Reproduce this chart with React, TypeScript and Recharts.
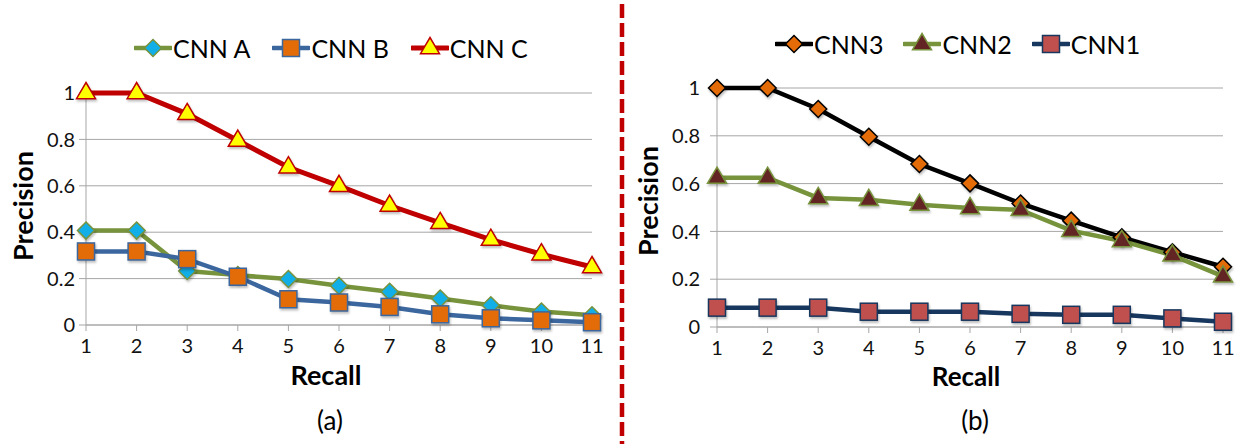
import { LineChart, Line, XAxis, YAxis, CartesianGrid } from "recharts";

// recall steps shared by both panels
const recall = [1, 2, 3, 4, 5, 6, 7, 8, 9, 10, 11];
const precisionTicks = [0, 0.2, 0.4, 0.6, 0.8, 1];

// panel (a)
const cnnA = [0.407, 0.407, 0.233, 0.215, 0.198, 0.169, 0.143, 0.114, 0.085, 0.058, 0.042];
const cnnB = [0.317, 0.317, 0.284, 0.208, 0.111, 0.097, 0.078, 0.046, 0.029, 0.02, 0.012];
const cnnC = [1, 1, 0.91, 0.795, 0.68, 0.6, 0.515, 0.44, 0.368, 0.305, 0.25];

// panel (b)
const cnn3 = [1, 1, 0.912, 0.796, 0.682, 0.601, 0.517, 0.445, 0.375, 0.313, 0.252];
const cnn2 = [0.625, 0.625, 0.54, 0.532, 0.512, 0.498, 0.49, 0.403, 0.36, 0.3, 0.212];
const cnn1 = [0.081, 0.081, 0.081, 0.064, 0.064, 0.064, 0.055, 0.051, 0.051, 0.036, 0.022];

const FONT = "Lato, 'Open Sans', sans-serif";
const GRID = "#a6a6a6";

type Shape = "diamond" | "square" | "triangle";

type SeriesDef = {
  key: string;
  name: string;
  line: string;
  width: number;
  shape: Shape;
  fill: string;
  edge: string;
};

const leftSeries: SeriesDef[] = [
  { key: "a", name: "CNN A", line: "#77933c", width: 4.5, shape: "diamond", fill: "#12aee8", edge: "#77933c" },
  { key: "b", name: "CNN B", line: "#3b679e", width: 4.5, shape: "square", fill: "#e36c09", edge: "#3b679e" },
  { key: "c", name: "CNN C", line: "#c00000", width: 5, shape: "triangle", fill: "#ffff00", edge: "#c00000" },
];

const rightSeries: SeriesDef[] = [
  { key: "s3", name: "CNN3", line: "#000000", width: 4.5, shape: "diamond", fill: "#e36c09", edge: "#000000" },
  { key: "s2", name: "CNN2", line: "#77933c", width: 4.5, shape: "triangle", fill: "#632523", edge: "#77933c" },
  { key: "s1", name: "CNN1", line: "#17375e", width: 4.5, shape: "square", fill: "#c0504d", edge: "#17375e" },
];

const leftData = recall.map((r, i) => ({ r, a: cnnA[i], b: cnnB[i], c: cnnC[i] }));
const rightData = recall.map((r, i) => ({ r, s3: cnn3[i], s2: cnn2[i], s1: cnn1[i] }));

function Marker({ cx, cy, s }: { cx: number; cy: number; s: SeriesDef }) {
  if (s.shape === "diamond") {
    const d = 8.5;
    return (
      <polygon
        points={`${cx},${cy - d} ${cx + d},${cy} ${cx},${cy + d} ${cx - d},${cy}`}
        fill={s.fill}
        stroke={s.edge}
        strokeWidth={1.5}
      />
    );
  }
  if (s.shape === "square") {
    const h = 8.5;
    return (
      <rect x={cx - h} y={cy - h} width={h * 2} height={h * 2} fill={s.fill} stroke={s.edge} strokeWidth={1.5} />
    );
  }
  const t = 9.5;
  return (
    <polygon
      points={`${cx},${cy - t - 1} ${cx + t},${cy + t * 0.6} ${cx - t},${cy + t * 0.6}`}
      fill={s.fill}
      stroke={s.edge}
      strokeWidth={1.5}
    />
  );
}

function makeDot(s: SeriesDef) {
  return (props: any) => {
    const { cx, cy, index } = props;
    if (cx == null || cy == null) return <g key={`${s.key}-${index}`} />;
    return (
      <g key={`${s.key}-${index}`} style={{ filter: "drop-shadow(1px 2px 1px rgba(0,0,0,0.25))" }}>
        <Marker cx={cx} cy={cy} s={s} />
      </g>
    );
  };
}

function LegendRow({ series, gap, left, top }: { series: SeriesDef[]; gap: number; left: number; top: number }) {
  return (
    <div
      style={{
        position: "absolute",
        left,
        top,
        display: "flex",
        alignItems: "center",
        gap,
        fontFamily: FONT,
        fontSize: 25,
        color: "#000",
      }}
    >
      {series.map((s) => (
        <div key={s.key} style={{ display: "flex", alignItems: "center" }}>
          <svg width={38} height={24}>
            <line x1={1} y1={12} x2={37} y2={12} stroke={s.line} strokeWidth={s.width} strokeLinecap="round" />
            <Marker cx={19} cy={12} s={s} />
          </svg>
          <span style={{ marginLeft: 1, lineHeight: "30px" }}>{s.name}</span>
        </div>
      ))}
    </div>
  );
}

function Panel({
  data,
  series,
  margin,
  left,
  width,
  tickMargin,
}: {
  data: any[];
  series: SeriesDef[];
  margin: { top: number; right: number; bottom: number; left: number };
  left: number;
  width: number;
  tickMargin: number;
}) {
  return (
    <div style={{ position: "absolute", left, top: 0 }}>
      <LineChart width={width} height={444} data={data} margin={margin}>
        <CartesianGrid horizontal vertical={false} stroke={GRID} strokeWidth={1} />
        <XAxis
          dataKey="r"
          type="category"
          height={30}
          stroke={GRID}
          tickSize={6}
          tickMargin={8}
          tick={{ fontSize: 20, fill: "#111", fontFamily: FONT }}
          interval={0}
        />
        <YAxis
          type="number"
          domain={[0, 1]}
          ticks={precisionTicks}
          width={40}
          stroke={GRID}
          tickSize={7}
          tickMargin={tickMargin}
          tick={{ fontSize: 20, fill: "#111", fontFamily: FONT }}
          tickFormatter={(v: number) => String(v)}
        />
        {series.map((s) => (
          <Line
            key={s.key}
            dataKey={s.key}
            name={s.name}
            stroke={s.line}
            strokeWidth={s.width}
            dot={makeDot(s)}
            activeDot={false}
            isAnimationActive={false}
          />
        ))}
      </LineChart>
    </div>
  );
}

const titleStyle: React.CSSProperties = {
  position: "absolute",
  fontFamily: FONT,
  fontWeight: 700,
  fontSize: 27,
  lineHeight: "27px",
  color: "#000",
  whiteSpace: "nowrap",
  transform: "translate(-50%, -50%)",
};

const captionStyle: React.CSSProperties = {
  position: "absolute",
  fontFamily: FONT,
  fontSize: 26,
  color: "#000",
  whiteSpace: "nowrap",
  transform: "translate(-50%, -50%)",
};

export default function App() {
  return (
    <div style={{ position: "absolute", left: 0, top: 0, width: 1246, height: 444, background: "#fff", overflow: "hidden" }}>
      <Panel
        data={leftData}
        series={leftSeries}
        left={0}
        width={620}
        margin={{ top: 93, right: 28, bottom: 89, left: 46 }}
        tickMargin={4}
      />
      <Panel
        data={rightData}
        series={rightSeries}
        left={620}
        width={626}
        margin={{ top: 88, right: 23, bottom: 87, left: 57 }}
        tickMargin={10}
      />

      <LegendRow series={leftSeries} gap={22} left={134} top={33} />
      <LegendRow series={rightSeries} gap={20} left={775} top={29} />

      <div style={{ ...titleStyle, left: 22, top: 206, transform: "translate(-50%, -50%) rotate(-90deg)" }}>Precision</div>
      <div style={{ ...titleStyle, left: 647, top: 201, transform: "translate(-50%, -50%) rotate(-90deg)" }}>Precision</div>
      <div style={{ ...titleStyle, left: 326, top: 374 }}>Recall</div>
      <div style={{ ...titleStyle, left: 966, top: 376, fontSize: 26 }}>Recall</div>
      <div style={{ ...captionStyle, left: 330, top: 420 }}>(a)</div>
      <div style={{ ...captionStyle, left: 975, top: 420 }}>(b)</div>

      <svg style={{ position: "absolute", left: 618, top: 0 }} width={8} height={444}>
        <line x1={4} y1={4} x2={4} y2={444} stroke="#c00000" strokeWidth={4.5} strokeDasharray="14 5" />
      </svg>
    </div>
  );
}
